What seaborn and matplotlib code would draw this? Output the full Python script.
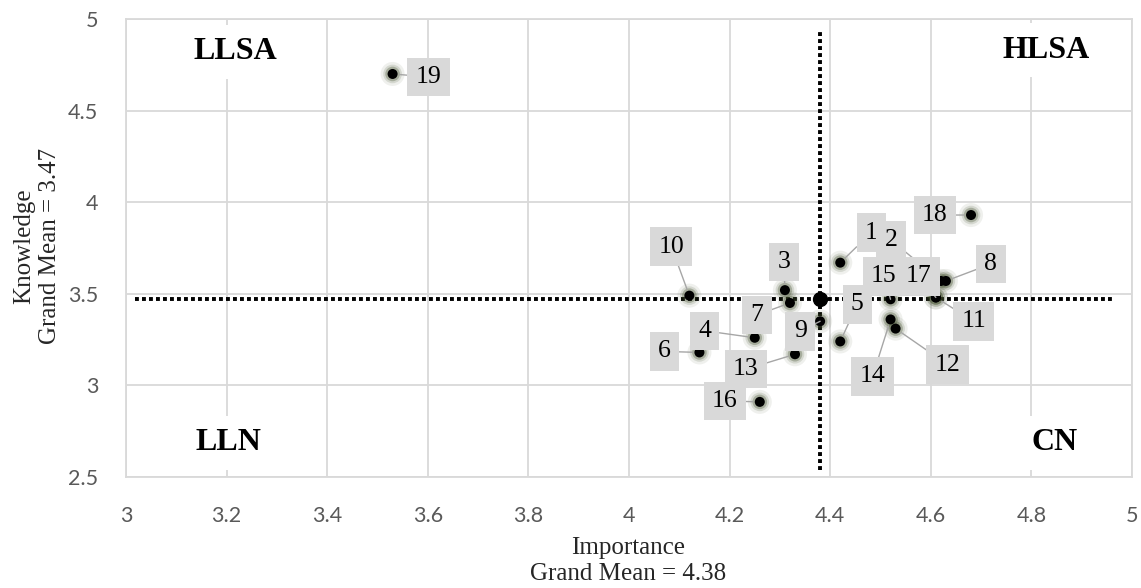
import pandas as pd
import matplotlib.pyplot as plt
import seaborn as sns

# --- Data ---
item_ids = list(range(1, 20))
importance = [4.42, 4.62, 4.31, 4.25, 4.42, 4.14, 4.32, 4.63, 4.38, 4.12,
              4.61, 4.53, 4.33, 4.52, 4.52, 4.26, 4.61, 4.68, 3.53]
knowledge = [3.67, 3.57, 3.52, 3.26, 3.24, 3.18, 3.45, 3.57, 3.35, 3.49,
             3.48, 3.31, 3.17, 3.36, 3.47, 2.91, 3.48, 3.93, 4.70]
grand_mean_importance = 4.38
grand_mean_knowledge = 3.47
quadrant_names = ["LLSA", "HLSA", "LLN", "CN"]

# --- Layout (label offsets in pixels, dx right / dy up) ---
LABEL_OFFSETS = {
    1: (31, 30), 2: (-50, 41), 3: (-1, 28), 4: (-50, 7), 5: (17, 37),
    6: (-35, 1), 7: (-33, -12), 8: (45, 17), 9: (-20, -10), 10: (-18, 49),
    11: (38, -24), 12: (52, -36), 13: (-49, -15), 14: (-18, -57),
    15: (-7, 23), 16: (-35, 1), 17: (-17, 21), 18: (-36, 0), 19: (36, -3),
}
QUADRANT_POS = {"LLSA": (3.217, 4.82), "HLSA": (4.829, 4.83),
                "LLN": (3.203, 2.686), "CN": (4.847, 2.686)}
SERIF = "Liberation Serif"
GRID_COLOR = "#d9d9d9"
TICK_COLOR = "#595959"

df = pd.DataFrame({"Item": item_ids, "Importance": importance, "Knowledge": knowledge})

sns.set_theme(style="white")
fig, ax = plt.subplots(figsize=(11.41, 5.88), dpi=100)
fig.subplots_adjust(left=126 / 1141, right=1132 / 1141, bottom=1 - 477 / 588, top=1 - 19 / 588)

ax.set_xlim(3, 5)
ax.set_ylim(2.5, 5)
ax.set_xticks([3 + 0.2 * i for i in range(11)])
ax.set_xticklabels(["3", "3.2", "3.4", "3.6", "3.8", "4", "4.2", "4.4", "4.6", "4.8", "5"])
ax.set_yticks([2.5, 3, 3.5, 4, 4.5, 5])
ax.set_yticklabels(["2.5", "3", "3.5", "4", "4.5", "5"])
ax.grid(True, color=GRID_COLOR, lw=1.3)
ax.set_axisbelow(True)
for sp in ax.spines.values():
    sp.set_color(GRID_COLOR)
    sp.set_linewidth(1.3)
ax.tick_params(axis="both", length=0, colors=TICK_COLOR, labelsize=15.5)
ax.tick_params(axis="x", pad=21)
ax.tick_params(axis="y", pad=20)
for lab in ax.get_xticklabels() + ax.get_yticklabels():
    lab.set_family("Lato")

# grand mean cross-hairs
ax.plot([3.018, 4.96], [grand_mean_knowledge] * 2, color="black", lw=2.8,
        ls=(0, (1, 0.8)), zorder=3)
ax.plot([grand_mean_importance] * 2, [2.54, 4.93], color="black", lw=2.8,
        ls=(0, (1, 0.8)), zorder=3)

# glow behind markers
for s, a in [(300, 0.08), (180, 0.15), (110, 0.3)]:
    sns.scatterplot(data=df, x="Importance", y="Knowledge", s=s, color="#3c4a26",
                    alpha=a, edgecolor="none", ax=ax, zorder=4, legend=False)
sns.scatterplot(data=df, x="Importance", y="Knowledge", s=52, color="black",
                edgecolor="none", ax=ax, zorder=5, legend=False)
ax.scatter([grand_mean_importance], [grand_mean_knowledge], s=100, color="black", zorder=6)

# data labels with leader lines
for item, x, y in zip(item_ids, importance, knowledge):
    dx, dy = LABEL_OFFSETS[item]
    ax.annotate(str(item), xy=(x, y), xytext=(dx, dy), textcoords="offset pixels",
                ha="center", va="center", fontsize=18.5, family=SERIF, color="black",
                bbox=dict(boxstyle="square,pad=0.32", fc="#d9d9d9", ec="none"),
                arrowprops=dict(arrowstyle="-", color="#a6a6a6", lw=1,
                                shrinkA=0, shrinkB=5),
                zorder=7)

# quadrant names
for name in quadrant_names:
    qx, qy = QUADRANT_POS[name]
    ax.text(qx, qy, name, ha="center", va="center", fontsize=23, fontweight="bold",
            family=SERIF, color="black", zorder=2,
            bbox=dict(boxstyle="square,pad=0.4", fc="white", ec="none"))

ax.set_xlabel("")
ax.set_ylabel("")
fig.text(628 / 1141, 1 - 561 / 588, "Importance\nGrand Mean = 4.38", ha="center",
         va="center", fontsize=18, family=SERIF, color="#262626", linespacing=1.25)
fig.text(37 / 1141, 1 - 246 / 588, "Knowledge\nGrand Mean = 3.47", ha="center",
         va="center", fontsize=18, family=SERIF, color="#262626", linespacing=1.25,
         rotation=90)

plt.savefig("out.png", dpi=100)
plt.close()
